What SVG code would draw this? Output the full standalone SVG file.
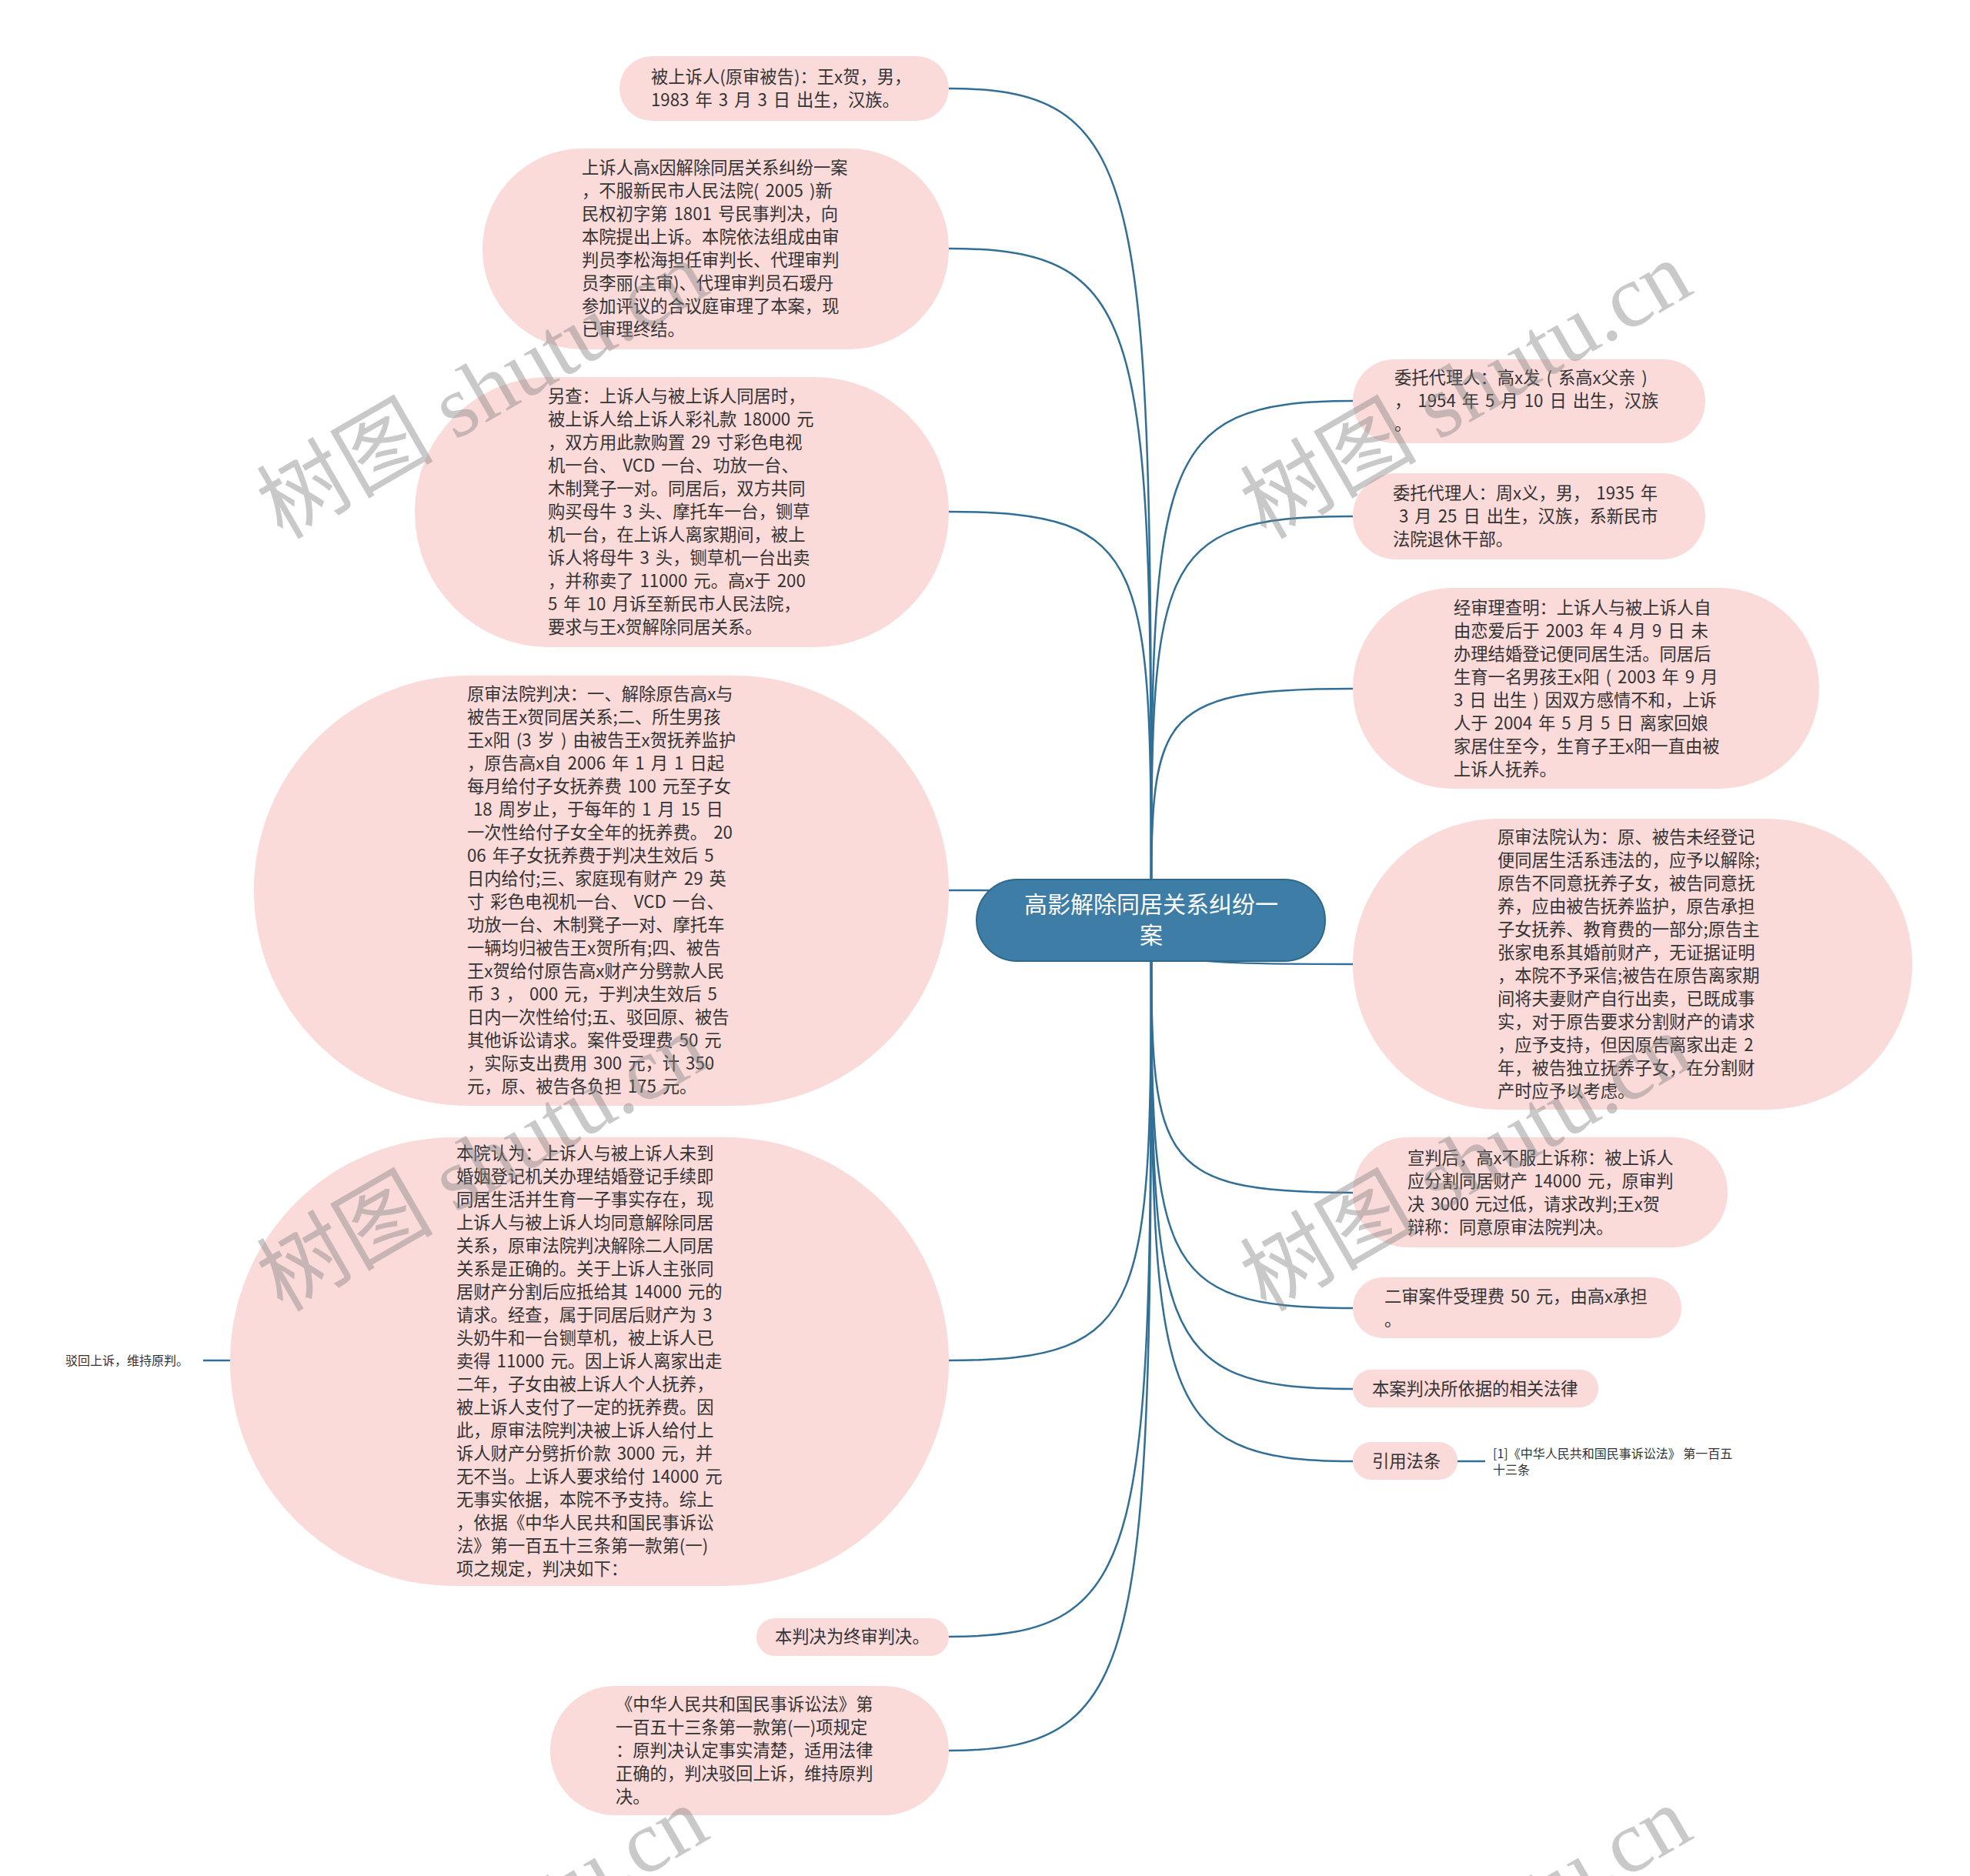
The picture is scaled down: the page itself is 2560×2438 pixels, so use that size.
<svg xmlns="http://www.w3.org/2000/svg" width="2560" height="2438" viewBox="0 0 2560 2438">
<style>
.leaf{fill:#fbdada;}
.t{font-family:"Noto Sans CJK SC","Noto Sans",sans-serif;font-size:22.3px;word-spacing:3px;fill:#333333;white-space:pre;}
.s{font-family:"Noto Sans CJK SC","Noto Sans",sans-serif;font-size:16px;fill:#333333;white-space:pre;}
.ct{font-family:"Noto Sans CJK SC","Noto Sans",sans-serif;font-size:30px;fill:#ffffff;text-anchor:middle;}
.c{fill:none;stroke:#316f96;stroke-width:2.5;}
.wm{font-family:"Liberation Serif","Noto Sans CJK SC",serif;font-size:115px;fill:#808080;opacity:0.42;}
</style>
<rect width="2560" height="2438" fill="#ffffff"/>
<g id="connectors">
<path class="c" d="M1496,1196 C1496,245 1496,115 1233,115"/>
<path class="c" d="M1496,1196 C1496,428 1496,323 1233,323"/>
<path class="c" d="M1496,1196 C1496,729 1496,665 1233,665"/>
<path class="c" d="M1496,1196 C1496,1162 1496,1157 1233,1157"/>
<path class="c" d="M1496,1196 C1496,1699 1496,1768 1233,1768"/>
<path class="c" d="M1496,1196 C1496,2015 1496,2127 1233,2127"/>
<path class="c" d="M1496,1196 C1496,2146 1496,2275 1233,2275"/>
<path class="c" d="M1496,1196 C1496,602 1496,521 1758,521"/>
<path class="c" d="M1496,1196 C1496,734 1496,671 1758,671"/>
<path class="c" d="M1496,1196 C1496,931 1496,895 1758,895"/>
<path class="c" d="M1496,1196 C1496,1246 1496,1253 1758,1253"/>
<path class="c" d="M1496,1196 C1496,1508 1496,1550 1758,1550"/>
<path class="c" d="M1496,1196 C1496,1640 1496,1700 1758,1700"/>
<path class="c" d="M1496,1196 C1496,1732 1496,1805 1758,1805"/>
<path class="c" d="M1496,1196 C1496,1815 1496,1899 1758,1899"/>
<path class="c" d="M299,1768 L264,1768"/>
<path class="c" d="M1894,1899 L1930,1899"/>
</g>
<g id="center">
<rect x="1269" y="1143" width="453" height="106" rx="53" fill="#3e7da6" stroke="#30688c" stroke-width="2"/>
<text class="ct"><tspan x="1496" y="1186">高影解除同居关系纠纷一</tspan><tspan x="1496" y="1226">案</tspan></text>
</g>
<g id="n1">
<rect class="leaf" x="805" y="73" width="428" height="84" rx="42"/>
<text class="t"><tspan x="846" y="108">被上诉人(原审被告)：王x贺，男，</tspan><tspan x="846" y="138">1983 年 3 月 3 日 出生，汉族。</tspan></text>
</g>
<g id="n2">
<rect class="leaf" x="627" y="193" width="606" height="261" rx="130"/>
<text class="t"><tspan x="756" y="226">上诉人高x因解除同居关系纠纷一案</tspan><tspan x="756" y="256">，不服新民市人民法院( 2005 )新</tspan><tspan x="756" y="286">民权初字第 1801 号民事判决，向</tspan><tspan x="756" y="316">本院提出上诉。本院依法组成由审</tspan><tspan x="756" y="346">判员李松海担任审判长、代理审判</tspan><tspan x="756" y="376">员李丽(主审)、代理审判员石瑷丹</tspan><tspan x="756" y="406">参加评议的合议庭审理了本案，现</tspan><tspan x="756" y="436">已审理终结。</tspan></text>
</g>
<g id="n3">
<rect class="leaf" x="539" y="490" width="694" height="351" rx="175"/>
<text class="t"><tspan x="712" y="523">另查：上诉人与被上诉人同居时，</tspan><tspan x="712" y="553">被上诉人给上诉人彩礼款 18000 元</tspan><tspan x="712" y="583">，双方用此款购置 29 寸彩色电视</tspan><tspan x="712" y="613">机一台、 VCD 一台、功放一台、</tspan><tspan x="712" y="643">木制凳子一对。同居后，双方共同</tspan><tspan x="712" y="673">购买母牛 3 头、摩托车一台，铡草</tspan><tspan x="712" y="703">机一台，在上诉人离家期间，被上</tspan><tspan x="712" y="733">诉人将母牛 3 头，铡草机一台出卖</tspan><tspan x="712" y="763">，并称卖了 11000 元。高x于 200</tspan><tspan x="712" y="793">5 年 10 月诉至新民市人民法院，</tspan><tspan x="712" y="823">要求与王x贺解除同居关系。</tspan></text>
</g>
<g id="n4">
<rect class="leaf" x="330" y="878" width="903" height="559" rx="279"/>
<text class="t"><tspan x="607" y="910">原审法院判决：一、解除原告高x与</tspan><tspan x="607" y="940">被告王x贺同居关系;二、所生男孩</tspan><tspan x="607" y="970">王x阳 (3 岁 ) 由被告王x贺抚养监护</tspan><tspan x="607" y="1000">，原告高x自 2006 年 1 月 1 日起</tspan><tspan x="607" y="1030">每月给付子女抚养费 100 元至子女</tspan><tspan x="607" y="1060"> 18 周岁止，于每年的 1 月 15 日</tspan><tspan x="607" y="1090">一次性给付子女全年的抚养费。 20</tspan><tspan x="607" y="1120">06 年子女抚养费于判决生效后 5</tspan><tspan x="607" y="1150">日内给付;三、家庭现有财产 29 英</tspan><tspan x="607" y="1180">寸 彩色电视机一台、 VCD 一台、</tspan><tspan x="607" y="1210">功放一台、木制凳子一对、摩托车</tspan><tspan x="607" y="1240">一辆均归被告王x贺所有;四、被告</tspan><tspan x="607" y="1270">王x贺给付原告高x财产分劈款人民</tspan><tspan x="607" y="1300">币 3 ， 000 元，于判决生效后 5</tspan><tspan x="607" y="1330">日内一次性给付;五、驳回原、被告</tspan><tspan x="607" y="1360">其他诉讼请求。案件受理费 50 元</tspan><tspan x="607" y="1390">，实际支出费用 300 元，计 350</tspan><tspan x="607" y="1420">元，原、被告各负担 175 元。</tspan></text>
</g>
<g id="n5">
<rect class="leaf" x="299" y="1478" width="934" height="583" rx="291"/>
<text class="t"><tspan x="593" y="1507">本院认为：上诉人与被上诉人未到</tspan><tspan x="593" y="1537">婚姻登记机关办理结婚登记手续即</tspan><tspan x="593" y="1567">同居生活并生育一子事实存在，现</tspan><tspan x="593" y="1597">上诉人与被上诉人均同意解除同居</tspan><tspan x="593" y="1627">关系，原审法院判决解除二人同居</tspan><tspan x="593" y="1657">关系是正确的。关于上诉人主张同</tspan><tspan x="593" y="1687">居财产分割后应抵给其 14000 元的</tspan><tspan x="593" y="1717">请求。经查，属于同居后财产为 3</tspan><tspan x="593" y="1747">头奶牛和一台铡草机，被上诉人已</tspan><tspan x="593" y="1777">卖得 11000 元。因上诉人离家出走</tspan><tspan x="593" y="1807">二年，子女由被上诉人个人抚养，</tspan><tspan x="593" y="1837">被上诉人支付了一定的抚养费。因</tspan><tspan x="593" y="1867">此，原审法院判决被上诉人给付上</tspan><tspan x="593" y="1897">诉人财产分劈折价款 3000 元，并</tspan><tspan x="593" y="1927">无不当。上诉人要求给付 14000 元</tspan><tspan x="593" y="1957">无事实依据，本院不予支持。综上</tspan><tspan x="593" y="1987">，依据《中华人民共和国民事诉讼</tspan><tspan x="593" y="2017">法》第一百五十三条第一款第(一)</tspan><tspan x="593" y="2047">项之规定，判决如下：</tspan></text>
</g>
<g id="n5-child">
<text class="s" x="85" y="1774">驳回上诉，维持原判。</text>
</g>
<g id="n6">
<rect class="leaf" x="983" y="2103" width="250" height="49" rx="24"/>
<text class="t" x="1007" y="2135">本判决为终审判决。</text>
</g>
<g id="n7">
<rect class="leaf" x="715" y="2191" width="518" height="168" rx="84"/>
<text class="t"><tspan x="800" y="2223">《中华人民共和国民事诉讼法》第</tspan><tspan x="800" y="2253">一百五十三条第一款第(一)项规定</tspan><tspan x="800" y="2283">：原判决认定事实清楚，适用法律</tspan><tspan x="800" y="2313">正确的，判决驳回上诉，维持原判</tspan><tspan x="800" y="2343">决。</tspan></text>
</g>
<g id="n8">
<rect class="leaf" x="1758" y="467" width="458" height="109" rx="54"/>
<text class="t"><tspan x="1812" y="499">委托代理人：高x发 ( 系高x父亲 )</tspan><tspan x="1812" y="529">， 1954 年 5 月 10 日 出生，汉族</tspan><tspan x="1812" y="559">。</tspan></text>
</g>
<g id="n9">
<rect class="leaf" x="1758" y="615" width="458" height="112" rx="56"/>
<text class="t"><tspan x="1810" y="649">委托代理人：周x义，男， 1935 年</tspan><tspan x="1810" y="679"> 3 月 25 日 出生，汉族，系新民市</tspan><tspan x="1810" y="709">法院退休干部。</tspan></text>
</g>
<g id="n10">
<rect class="leaf" x="1758" y="764" width="606" height="261" rx="130"/>
<text class="t"><tspan x="1889" y="798">经审理查明：上诉人与被上诉人自</tspan><tspan x="1889" y="828">由恋爱后于 2003 年 4 月 9 日 未</tspan><tspan x="1889" y="858">办理结婚登记便同居生活。同居后</tspan><tspan x="1889" y="888">生育一名男孩王x阳 ( 2003 年 9 月</tspan><tspan x="1889" y="918">3 日 出生 ) 因双方感情不和，上诉</tspan><tspan x="1889" y="948">人于 2004 年 5 月 5 日 离家回娘</tspan><tspan x="1889" y="978">家居住至今，生育子王x阳一直由被</tspan><tspan x="1889" y="1008">上诉人抚养。</tspan></text>
</g>
<g id="n11">
<rect class="leaf" x="1758" y="1064" width="727" height="378" rx="189"/>
<text class="t"><tspan x="1946" y="1096">原审法院认为：原、被告未经登记</tspan><tspan x="1946" y="1126">便同居生活系违法的，应予以解除;</tspan><tspan x="1946" y="1156">原告不同意抚养子女，被告同意抚</tspan><tspan x="1946" y="1186">养，应由被告抚养监护，原告承担</tspan><tspan x="1946" y="1216">子女抚养、教育费的一部分;原告主</tspan><tspan x="1946" y="1246">张家电系其婚前财产，无证据证明</tspan><tspan x="1946" y="1276">，本院不予采信;被告在原告离家期</tspan><tspan x="1946" y="1306">间将夫妻财产自行出卖，已既成事</tspan><tspan x="1946" y="1336">实，对于原告要求分割财产的请求</tspan><tspan x="1946" y="1366">，应予支持，但因原告离家出走 2</tspan><tspan x="1946" y="1396">年，被告独立抚养子女，在分割财</tspan><tspan x="1946" y="1426">产时应予以考虑。</tspan></text>
</g>
<g id="n12">
<rect class="leaf" x="1758" y="1478" width="487" height="143" rx="71"/>
<text class="t"><tspan x="1829" y="1513">宣判后，高x不服上诉称：被上诉人</tspan><tspan x="1829" y="1543">应分割同居财产 14000 元，原审判</tspan><tspan x="1829" y="1573">决 3000 元过低，请求改判;王x贺</tspan><tspan x="1829" y="1603">辩称：同意原审法院判决。</tspan></text>
</g>
<g id="n13">
<rect class="leaf" x="1758" y="1660" width="427" height="79" rx="39"/>
<text class="t"><tspan x="1799" y="1693">二审案件受理费 50 元，由高x承担</tspan><tspan x="1799" y="1723">。</tspan></text>
</g>
<g id="n14">
<rect class="leaf" x="1758" y="1780" width="319" height="49" rx="24"/>
<text class="t" x="1783" y="1813">本案判决所依据的相关法律</text>
</g>
<g id="n15">
<rect class="leaf" x="1758" y="1874" width="136" height="49" rx="24"/>
<text class="t" x="1783" y="1907">引用法条</text>
</g>
<g id="n15-child">
<text class="s"><tspan x="1940" y="1895">[1]《中华人民共和国民事诉讼法》 第一百五</tspan><tspan x="1940" y="1916">十三条</tspan></text>
</g>
<g id="watermark">
<text class="wm" transform="translate(367,702) rotate(-30)">树图 shutu.cn</text>
<text class="wm" transform="translate(1645,702) rotate(-30)">树图 shutu.cn</text>
<text class="wm" transform="translate(367,1706) rotate(-30)">树图 shutu.cn</text>
<text class="wm" transform="translate(1645,1706) rotate(-30)">树图 shutu.cn</text>
<text class="wm" transform="translate(367,2710) rotate(-30)">树图 shutu.cn</text>
<text class="wm" transform="translate(1645,2710) rotate(-30)">树图 shutu.cn</text>
</g>
</svg>
